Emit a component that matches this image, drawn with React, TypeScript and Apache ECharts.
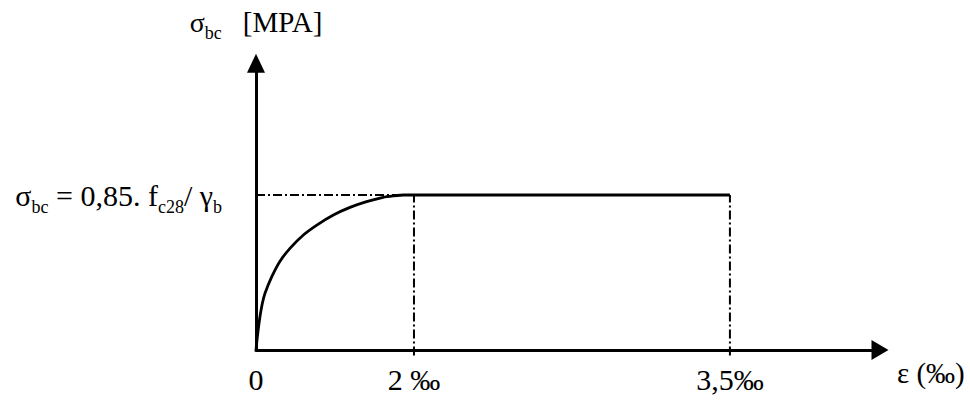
import React, { useEffect, useRef } from "react";
import * as echarts from "echarts";

// Horizontal drawing positions (schematic units) of the strain marks and their labels
const strainTicks = [0, 2, 6];
const strainTickLabels = ["0", "2 ‰", "3,5‰"];
// Stress level of the plateau (normalised)
const plateauLevel = 1;
// Parabolic branch: [strain position, stress]
const curveX = [0, 0.006, 0.016, 0.03, 0.05, 0.08, 0.114, 0.2, 0.3, 0.43, 0.6, 0.77, 0.98, 1.19, 1.4, 1.61, 1.74, 1.87, 2];
const curveY = [0, 0.03, 0.08, 0.14, 0.215, 0.3, 0.366, 0.473, 0.57, 0.656, 0.742, 0.806, 0.871, 0.92, 0.957, 0.985, 0.994, 1.0, 1.0];
const plateauX = [2, 6];

const FONT = "Liberation Serif";

export default function App() {
  const ref = useRef<HTMLDivElement>(null);
  useEffect(() => {
    if (!ref.current) return;
    const chart = echarts.init(ref.current, null, { renderer: "svg" });
    const curve = curveX.map((x, i) => [x, curveY[i]]);
    const plateau = plateauX.map((x) => [x, plateauLevel]);
    const dashDot = [9, 3, 2, 3];
    const dashStyle = { color: "#000", width: 2, type: dashDot };
    chart.setOption({
      animation: false,
      grid: { left: 256, top: 63.25, width: 624, height: 286.75 },
      xAxis: {
        type: "value",
        min: 0,
        max: 7.9,
        splitLine: { show: false },
        axisTick: { show: false },
        axisLine: {
          onZero: false,
          lineStyle: { color: "#000", width: 3 },
          symbol: ["none", "triangle"],
          symbolSize: [20, 17],
        },
        axisLabel: {
          customValues: strainTicks,
          formatter: (v: number) => strainTickLabels[strainTicks.indexOf(v)] ?? "",
          fontFamily: FONT,
          fontSize: 30,
          color: "#000",
          margin: 14,
        },
        name: "ε (‰)",
        nameLocation: "end",
        nameGap: 17,
        nameTextStyle: {
          fontFamily: FONT,
          fontSize: 29,
          color: "#000",
          align: "left",
          verticalAlign: "top",
          padding: [8, 0, 0, 0],
        },
      },
      yAxis: {
        type: "value",
        min: 0,
        max: 1.85,
        splitLine: { show: false },
        axisTick: { show: false },
        axisLine: {
          lineStyle: { color: "#000", width: 3 },
          symbol: ["none", "triangle"],
          symbolSize: [18, 19],
        },
        axisLabel: {
          customValues: [plateauLevel],
          formatter: () => "{m|σ}{sub|bc}{m| = 0,85. f}{sub|c28}{m|/ γ}{sub|b}",
          margin: 34,
          color: "#000",
          rich: {
            m: { fontFamily: FONT, fontSize: 30, lineHeight: 34, color: "#000" },
            sub: { fontFamily: FONT, fontSize: 18, lineHeight: 18, verticalAlign: "bottom", color: "#000", padding: [0, 0, -4, 0] },
          },
        },
        name: "{m|σ}{sub|bc}{m|   }{big|[MPA]}",
        nameLocation: "end",
        nameGap: 25,
        nameTextStyle: {
          rich: {
            m: { fontFamily: FONT, fontSize: 28, lineHeight: 32, color: "#000" },
            sub: { fontFamily: FONT, fontSize: 18, lineHeight: 18, verticalAlign: "bottom", color: "#000", padding: [0, 0, -4, 0] },
            big: { fontFamily: FONT, fontSize: 29, lineHeight: 32, color: "#000" },
          },
        },
      },
      series: [
        {
          type: "line",
          data: [[0, plateauLevel], [2, plateauLevel]],
          showSymbol: false,
          lineStyle: dashStyle,
          z: 1,
        },
        {
          type: "line",
          data: [[2, -0.035], [2, plateauLevel]],
          showSymbol: false,
          clip: false,
          lineStyle: dashStyle,
          z: 1,
        },
        {
          type: "line",
          data: [[6, -0.035], [6, plateauLevel]],
          showSymbol: false,
          clip: false,
          lineStyle: dashStyle,
          z: 1,
        },
        {
          type: "line",
          data: curve,
          smooth: 0.2,
          showSymbol: false,
          lineStyle: { color: "#000", width: 2.8 },
          z: 3,
        },
        {
          type: "line",
          data: plateau,
          showSymbol: false,
          lineStyle: { color: "#000", width: 3 },
          z: 3,
        },
      ],
    });
    return () => chart.dispose();
  }, []);
  return (
    <div
      ref={ref}
      style={{ position: "fixed", left: 0, top: 0, width: 970, height: 410, background: "#fff" }}
    />
  );
}
